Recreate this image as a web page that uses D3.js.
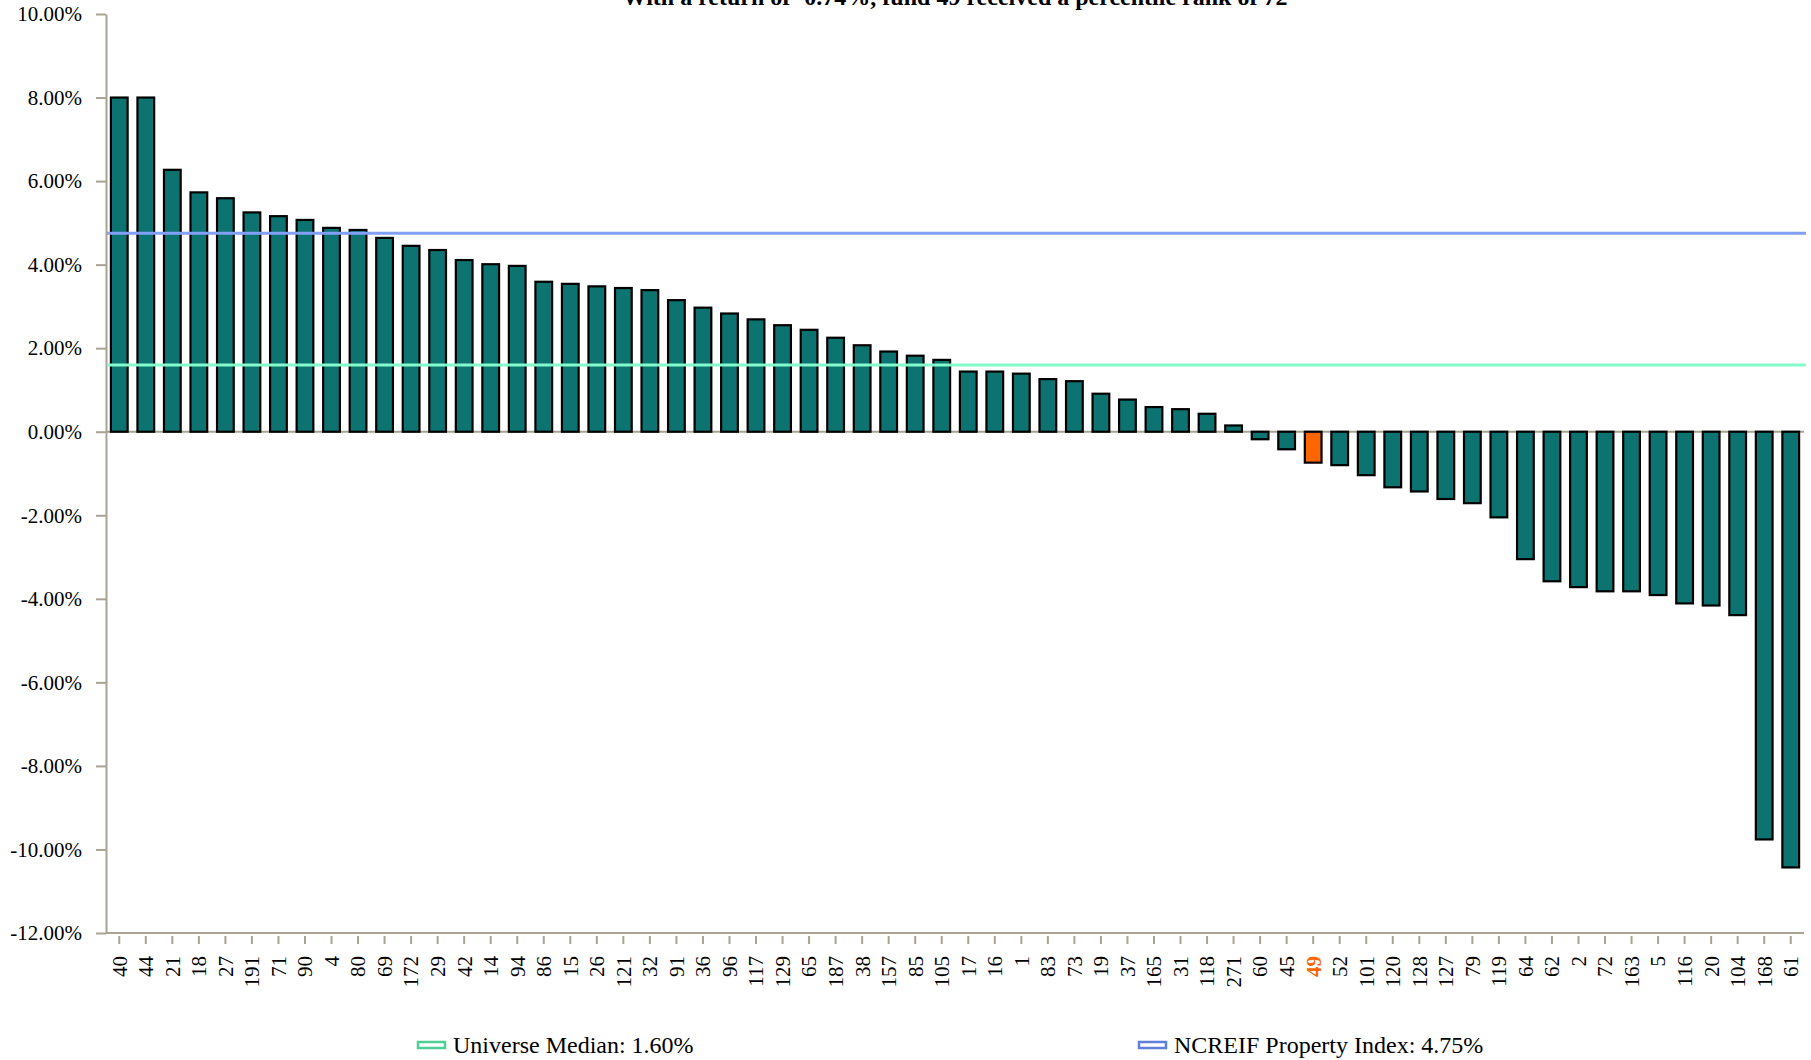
<!DOCTYPE html>
<html>
<head>
<meta charset="utf-8">
<script src="https://cdn.jsdelivr.net/npm/d3@7"></script>
<style>
  html, body { margin: 0; padding: 0; background: #ffffff; }
  svg { display: block; }
  svg text { font-family: "Liberation Serif", "Times New Roman", serif; }
</style>
</head>
<body>
<svg id="chart" width="1811" height="1060"></svg>
<script>
// Fund identifiers, ordered from best to worst return
const funds = ["40","44","21","18","27","191","71","90","4","80","69","172","29","42","14","94","86","15","26","121","32","91",
  "36","96","117","129","65","187","38","157","85","105","17","16","1","83","73","19","37","165","31","118","271","60",
  "45","49","52","101","120","128","127","79","119","64","62","2","72","163","5","116","20","104","168","61"];

// Total return for each fund, in percent
const returns = [8.00, 8.00, 6.27, 5.73, 5.59, 5.25, 5.16, 5.07, 4.88, 4.83, 4.64, 4.45, 4.35, 4.11, 4.01, 3.97, 3.59, 3.54, 3.48, 3.44, 3.39, 3.15,
  2.97, 2.83, 2.69, 2.55, 2.44, 2.25, 2.07, 1.92, 1.82, 1.72, 1.44, 1.44, 1.39, 1.26, 1.21, 0.91, 0.77, 0.59, 0.54, 0.43, 0.15, -0.18,
  -0.42, -0.74, -0.80, -1.04, -1.33, -1.43, -1.61, -1.71, -2.05, -3.05, -3.58, -3.72, -3.82, -3.82, -3.91, -4.11, -4.16, -4.39, -9.76, -10.43];

const highlightFund = "49";
const highlightReturn = -0.74;
const highlightRank = 72;

// Reference lines
const benchmarkNames = ["Universe Median", "NCREIF Property Index"];
const benchmarkValues = [1.60, 4.75];

const yTickValues = [10, 8, 6, 4, 2, 0, -2, -4, -6, -8, -10, -12];

const svg = d3.select("#chart");
const margin = { left: 106, right: 1804, top: 14, bottom: 933 };

const barColor = "#0D7370";
const highlightColor = "#FF6600";
const axisColor = "#A8A392";
const benchmarkColors = ["#84FCCB", "#82A0F6"];
const benchmarkSwatchColors = ["#4FCF98", "#5F7FDA"];

const x = d3.scaleBand()
  .domain(funds)
  .range([margin.left, margin.right])
  .paddingInner(0.37)
  .paddingOuter(0.185);

const y = d3.scaleLinear()
  .domain([-12, 10])
  .range([margin.bottom, margin.top]);

const fmtPct = v => v.toFixed(2) + "%";

// Title
svg.append("text")
  .attr("x", (margin.left + margin.right) / 2)
  .attr("y", 5)
  .attr("text-anchor", "middle")
  .attr("font-size", 24)
  .attr("font-weight", "bold")
  .attr("fill", "#000")
  .text(`With a return of ${highlightReturn.toFixed(2)}%, fund ${highlightFund} received a percentile rank of ${highlightRank}`);

// Y axis
const yAxis = svg.append("g")
  .attr("transform", `translate(${margin.left},0)`)
  .call(d3.axisLeft(y).tickValues(yTickValues).tickFormat(fmtPct).tickSize(10).tickPadding(14).tickSizeOuter(0))
  .attr("font-family", null)
  .attr("font-size", null);
yAxis.select(".domain").attr("stroke", axisColor).attr("stroke-width", 2);
yAxis.selectAll(".tick line").attr("stroke", axisColor).attr("stroke-width", 2);
yAxis.selectAll(".tick text")
  .style("font-size", "21px")
  .attr("fill", "#000");

// Zero baseline
svg.append("line")
  .attr("x1", margin.left).attr("x2", margin.right)
  .attr("y1", y(0)).attr("y2", y(0))
  .attr("stroke", axisColor).attr("stroke-width", 2);

// Bars
svg.append("g")
  .selectAll("rect")
  .data(funds.map((f, i) => ({ fund: f, value: returns[i] })))
  .join("rect")
  .attr("x", d => x(d.fund))
  .attr("width", x.bandwidth())
  .attr("y", d => y(Math.max(0, d.value)))
  .attr("height", d => Math.abs(y(d.value) - y(0)))
  .attr("fill", d => d.fund === highlightFund ? highlightColor : barColor)
  .attr("stroke", "#000")
  .attr("stroke-width", 2.2);

// Bottom axis line
svg.append("line")
  .attr("x1", margin.left).attr("x2", margin.right)
  .attr("y1", margin.bottom).attr("y2", margin.bottom)
  .attr("stroke", axisColor).attr("stroke-width", 2);

// X axis ticks and rotated fund labels
const xAxis = svg.append("g")
  .attr("transform", `translate(0,${margin.bottom + 3})`)
  .call(d3.axisBottom(x).tickSize(8).tickSizeOuter(0))
  .attr("font-family", null)
  .attr("font-size", null);
xAxis.select(".domain").remove();
xAxis.selectAll(".tick line").attr("stroke", axisColor).attr("stroke-width", 2);
xAxis.selectAll(".tick text")
  .attr("transform", "rotate(-90)")
  .attr("x", -20)
  .attr("y", 0)
  .attr("dy", "0.35em")
  .attr("text-anchor", "end")
  .style("font-size", "21px")
  .attr("fill", d => d === highlightFund ? highlightColor : "#000")
  .attr("font-weight", d => d === highlightFund ? "bold" : "normal");

// Benchmark lines
svg.append("g")
  .selectAll("line")
  .data(benchmarkValues)
  .join("line")
  .attr("x1", margin.left + 1).attr("x2", margin.right + 2)
  .attr("y1", d => y(d)).attr("y2", d => y(d))
  .attr("stroke", (d, i) => benchmarkColors[i])
  .attr("stroke-width", 3);

// Legend
const legendX = [418, 1139];
const legend = svg.append("g")
  .selectAll("g")
  .data(benchmarkNames)
  .join("g")
  .attr("transform", (d, i) => `translate(${legendX[i]},1045)`);
legend.append("rect")
  .attr("x", 0).attr("y", -3)
  .attr("width", 27).attr("height", 6)
  .attr("fill", "#ffffff")
  .attr("stroke", (d, i) => benchmarkSwatchColors[i])
  .attr("stroke-width", 2.5);
legend.append("text")
  .attr("x", 35)
  .attr("y", 0)
  .attr("dy", "0.35em")
  .style("font-size", "24px")
  .attr("fill", "#000")
  .text((d, i) => `${d}: ${benchmarkValues[i].toFixed(2)}%`);
</script>
</body>
</html>
